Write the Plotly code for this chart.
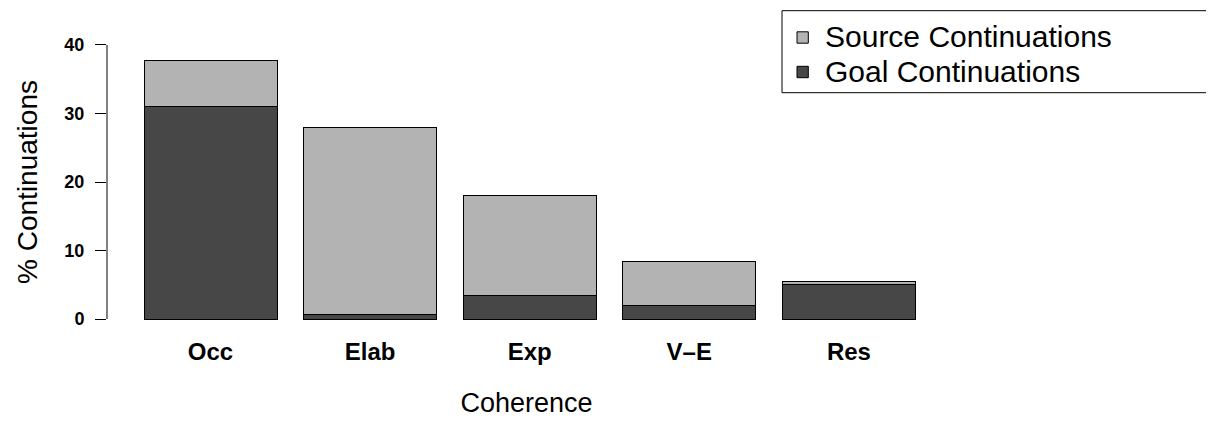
import plotly.graph_objects as go

categories = ["Occ", "Elab", "Exp", "V\u2013E", "Res"]
goal_continuations = [31.0, 0.7, 3.5, 1.95, 5.07]
source_continuations = [6.8, 27.2, 14.6, 6.45, 0.43]
y_ticks = [0, 10, 20, 30, 40]

GOAL_COLOR = "#474747"
SOURCE_COLOR = "#b3b3b3"

FONT = "Liberation Sans, Arial, Helvetica, sans-serif"
OFF = 8  # page body margin
W, H = 1214 - OFF, 430 - OFF
L, R, T, B = 99, 268, 26, 100
PW, PH = W - L - R, H - T - B


def px_x(xp):
    return (xp - OFF - L) / PW


def px_y(yp):
    return (H - B - (yp - OFF)) / PH


fig = go.Figure()
fig.add_trace(go.Bar(
    x=categories, y=goal_continuations, name="Goal Continuations",
    marker=dict(color=GOAL_COLOR, line=dict(color="black", width=1)),
))
fig.add_trace(go.Bar(
    x=categories, y=source_continuations, name="Source Continuations",
    marker=dict(color=SOURCE_COLOR, line=dict(color="black", width=1)),
))

fig.update_layout(
    width=W, height=H,
    margin=dict(l=L, r=R, t=T, b=B, autoexpand=False),
    barmode="stack",
    bargap=0.2 / 1.2,
    plot_bgcolor="white", paper_bgcolor="white",
    font=dict(family=FONT, color="black"),
    showlegend=False,
    xaxis=dict(
        type="category",
        range=[-(210.5 - 107) / 159.6, (946 - 210.5) / 159.6],
        showgrid=False, zeroline=False, showline=False, ticks="",
        tickfont=dict(family=FONT, size=24, weight="bold", color="black"),
        ticklabelstandoff=5,
        title=dict(text="Coherence", font=dict(family=FONT, size=27, color="black"), standoff=29),
        automargin=False,
    ),
    yaxis=dict(
        range=[-1.6, 41.6],
        tickvals=y_ticks,
        showgrid=False, zeroline=False, showline=False,
        ticks="outside", ticklen=11, tickwidth=1, tickcolor="black",
        tickfont=dict(family=FONT, size=18, weight="bold", color="black"),
        ticklabelstandoff=7,
        title=dict(text="% Continuations", font=dict(family=FONT, size=28, color="black"), standoff=18),
        automargin=False,
    ),
)

# y axis line spanning the tick range (R style)
fig.add_shape(type="line", xref="paper", yref="y",
              x0=0, x1=0, y0=min(y_ticks), y1=max(y_ticks),
              line=dict(color="black", width=1))

# legend (R style box)
fig.add_shape(type="rect", xref="paper", yref="paper",
              x0=px_x(782), x1=px_x(1240), y0=px_y(92.7), y1=px_y(10.7),
              line=dict(color="black", width=1), fillcolor="white", layer="above")
legend_rows = [("Source Continuations", SOURCE_COLOR, 37.5),
               ("Goal Continuations", GOAL_COLOR, 72.0)]
for name, color, yc in legend_rows:
    fig.add_shape(type="rect", xref="paper", yref="paper",
                  x0=px_x(797), x1=px_x(808.3), y0=px_y(yc + 5.7), y1=px_y(yc - 5.7),
                  line=dict(color="black", width=1), fillcolor=color, layer="above")
    fig.add_annotation(x=px_x(823), y=px_y(yc - 1), xref="paper", yref="paper",
                       text=name, showarrow=False, xanchor="left", yanchor="middle",
                       font=dict(family=FONT, size=30, color="black"))

fig.write_html("out.html")
